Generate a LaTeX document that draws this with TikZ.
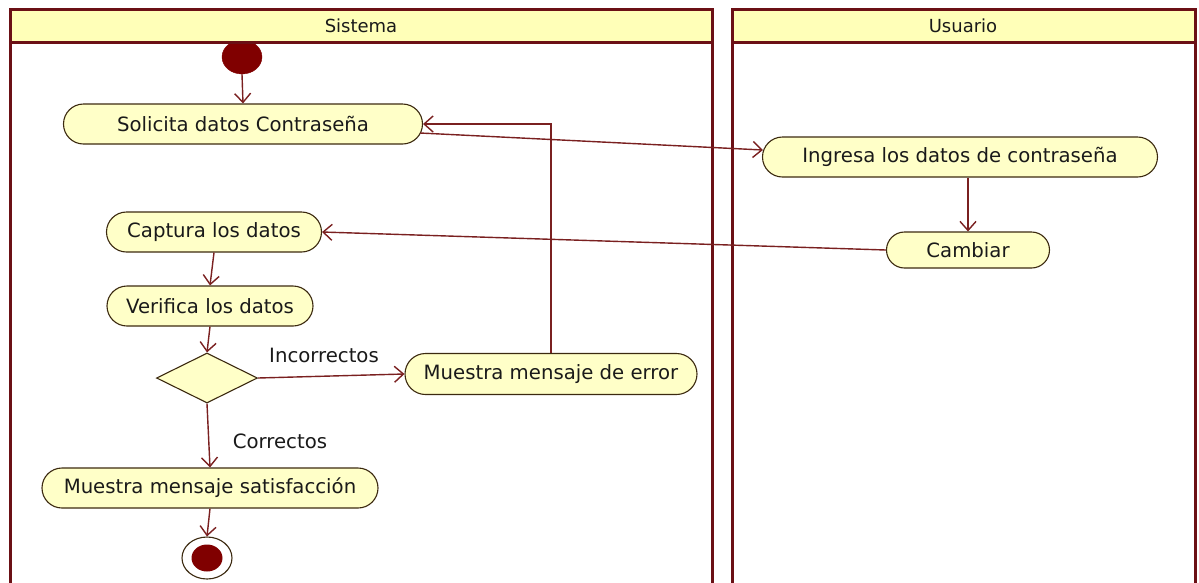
\documentclass[tikz,border=0pt]{standalone}
\usepackage{fontspec}
\setmainfont{DejaVu Sans}
\usetikzlibrary{shapes.misc,shapes.geometric,arrows.meta,calc}
\definecolor{lane}{HTML}{6B1015}
\definecolor{headf}{HTML}{FFFFB8}
\definecolor{nodef}{HTML}{FFFFC8}
\definecolor{nodeb}{HTML}{3C2A10}
\definecolor{conn}{HTML}{7A2020}
\definecolor{startc}{HTML}{800000}
\definecolor{txt}{HTML}{1A1A1A}
\begin{document}
\begin{tikzpicture}[x=1pt,y=-1pt,
  act/.style={rounded rectangle, draw=nodeb, fill=nodef, line width=1.1pt,
    minimum height=40pt, inner xsep=0pt, text=txt, font=\fontsize{19.7}{22}\selectfont},
  flow/.style={draw=conn, line width=1.4pt, -{Straight Barb[length=9pt,width=16pt]}},
  lbl/.style={text=txt, font=\fontsize{19.7}{22}\selectfont},
  hdr/.style={text=txt, font=\fontsize{18}{20}\selectfont},
  lanel/.style={draw=lane, line width=3pt}]
\useasboundingbox (0,0) rectangle (1199,582);
\fill[white] (0,0) rectangle (1199,582);
% start node (partly behind header)
\node[ellipse, fill=startc, draw=startc, minimum width=40pt, minimum height=34pt, inner sep=0pt] (start) at (242,57) {};
% lanes
\fill[headf] (10,9) rectangle (712,42);
\fill[headf] (732,9) rectangle (1195,42);
\draw[lanel] (10,590) -- (10,9) -- (712,9) -- (712,590);
\draw[lanel] (10,42) -- (712,42);
\draw[lanel] (732,590) -- (732,9) -- (1195,9) -- (1195,590);
\draw[lanel] (732,42) -- (1195,42);
\node[hdr] (hs) at (361,26) {Sistema};
\node[hdr] (hu) at (963,26) {Usuario};
% activities
\node[act, minimum width=359pt] (sol) at (243,124) {Solicita datos Contraseña};
\node[act, minimum width=395pt] (ing) at (960,157) {Ingresa los datos de contraseña};
\node[act, minimum width=163pt, minimum height=36pt] (cam) at (968,250) {Cambiar};
\node[act, minimum width=215pt] (cap) at (214,232) {Captura los datos};
\node[act, minimum width=206pt] (ver) at (210,306) {Verifica los datos};
\node[diamond, draw=nodeb, fill=nodef, line width=1.1pt, minimum width=101pt, minimum height=50pt, inner sep=0pt] (dia) at (207,378) {};
\node[act, minimum width=292pt, minimum height=41pt] (err) at (551,374) {Muestra mensaje de error};
\node[act, minimum width=336pt] (sat) at (210,488) {Muestra mensaje satisfacción};
\node[ellipse, draw=nodeb, line width=1.1pt, fill=white, minimum width=50pt, minimum height=42pt, inner sep=0pt] (end) at (207,558) {};
\node[ellipse, fill=startc, minimum width=31pt, minimum height=27pt, inner sep=0pt] (endin) at (end.center) {};
% labels
\node[lbl] (linc) at (324,355) {Incorrectos};
\node[lbl] (lcor) at (280,441) {Correctos};
% connectors
\draw[flow] (start.south) -- (sol.north);
\draw[flow] ($(sol.east)+(-3,9)$) -- ($(ing.west)+(1,-7)$);
\draw[flow] (err.north) |- (sol.east);
\draw[flow] (ing.south -| cam.north) -- (cam.north);
\draw[flow] (cam.west) -- (cap.east);
\draw[flow] (cap.south) -- (ver.north);
\draw[flow] (ver.south) -- (dia.north);
\draw[flow] (dia.east) -- (err.west);
\draw[flow] (dia.south) -- (sat.north);
\draw[flow] (sat.south) -- (end.north);
\end{tikzpicture}
\end{document}
